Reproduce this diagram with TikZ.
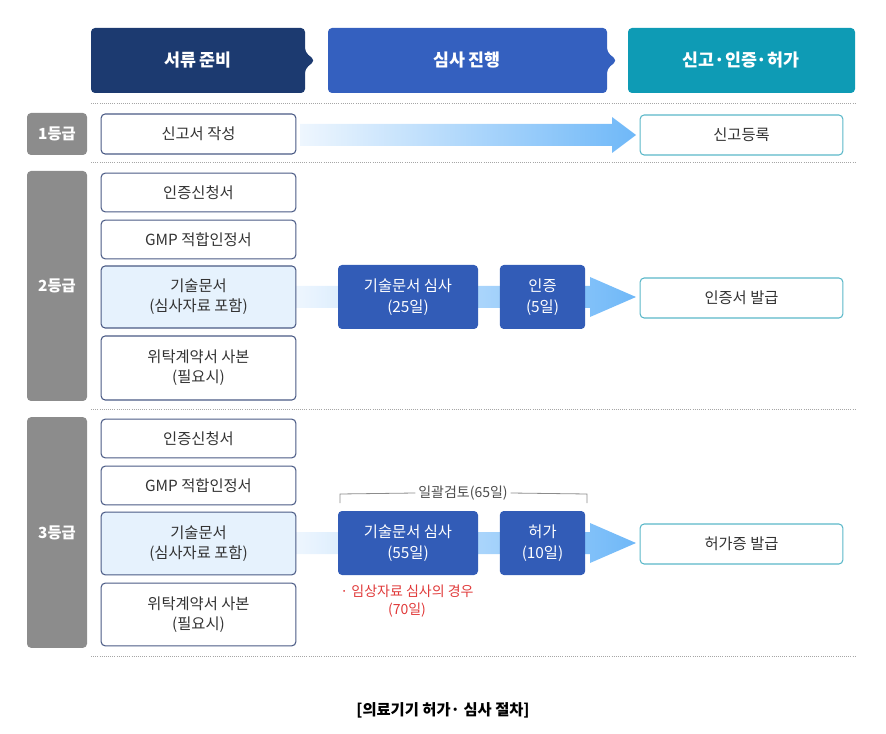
\documentclass[tikz,border=0pt]{standalone}
\usepackage{fontspec}
\setmainfont{Noto Sans CJK KR}
\usetikzlibrary{shadings}
\definecolor{navy}{HTML}{1C3A70}
\definecolor{mblue}{HTML}{3460BF}
\definecolor{teal}{HTML}{0E9BB5}
\definecolor{gbox}{HTML}{8C8C8C}
\definecolor{bord}{HTML}{4A5A85}
\definecolor{lfill}{HTML}{E6F2FD}
\definecolor{arr}{HTML}{6FB8F8}
\definecolor{arrl}{HTML}{EEF6FE}
\definecolor{tbord}{HTML}{5BB8C9}
\definecolor{rtext}{HTML}{E03A3A}
\begin{document}
\begin{tikzpicture}[x=0.75pt,y=-0.75pt,
  lbox/.style={draw=bord,line width=0.8pt,rounded corners=3pt,fill=white,font=\fontsize{11.5}{15}\selectfont,text=black!80,align=center},
  rbox/.style={draw=tbord,line width=0.8pt,rounded corners=3pt,fill=white,font=\fontsize{11.5}{15}\selectfont,text=black!80},
  gbx/.style={fill=gbox,rounded corners=3pt,text=white,font=\fontsize{11.5}{14}\bfseries\selectfont},
  sbox/.style={fill=mblue!90!navy,rounded corners=3pt,text=white,font=\fontsize{11.5}{16}\selectfont,align=center},
  hd/.style={text=white,font=\fontsize{13}{16}\bfseries\selectfont},
  dl/.style={densely dotted,black!35,line width=0.6pt}]
\useasboundingbox (0,0) rectangle (886,734);
% headers
\fill[navy,rounded corners=3pt] (91,28) -- (305,28) -- (305,52) -- (315,60.5) -- (305,69) -- (305,93) -- (91,93) -- cycle;
\fill[mblue,rounded corners=3pt] (328,28) -- (607,28) -- (607,52) -- (617,60.5) -- (607,69) -- (607,93) -- (328,93) -- cycle;
\fill[teal,rounded corners=3pt] (628,28) rectangle (855,93);
\node[hd] (h1) at (198,60.5) {서류 준비};
\node[hd] (h2) at (467,60.5) {심사 진행};
\node[hd] (h3) at (741,60.5) {신고·인증·허가};
% dotted lines
\foreach \yy in {103,162,409,656} \draw[dl] (91,\yy) -- (855,\yy);
% grade boxes
\node[gbx,minimum width=45pt,minimum height=31.5pt] (g1) at (57,134) {1등급};
\node[gbx,minimum width=45pt,minimum height=172.5pt] (g2) at (57,286) {2등급};
\node[gbx,minimum width=45pt,minimum height=173pt] (g3) at (57,532.5) {3등급};
% arrows
\shade[left color=arrl,right color=arr] (300,124) -- (612,124) -- (612,117) -- (636,135) -- (612,153) -- (612,146) -- (300,146) -- cycle;
\shade[left color=arrl,right color=arr] (296,286) -- (590,286) -- (590,277) -- (636,297) -- (590,317) -- (590,308) -- (296,308) -- cycle;
\shade[left color=arrl,right color=arr] (296,532) -- (590,532) -- (590,523) -- (636,543) -- (590,563) -- (590,554) -- (296,554) -- cycle;
% 1 grade
\node[lbox,minimum width=146pt,minimum height=30pt] (a1) at (198.5,134) {신고서 작성};
\node[rbox,minimum width=152pt,minimum height=30pt] (r1) at (741.5,135) {신고등록};
% 2 grade
\node[lbox,minimum width=146pt,minimum height=29pt] (b1) at (198.5,192.5) {인증신청서};
\node[lbox,minimum width=146pt,minimum height=29pt] (b2) at (198.5,239.5) {GMP 적합인정서};
\node[lbox,fill=lfill,minimum width=146pt,minimum height=46.5pt] (b3) at (198.5,297) {기술문서\\(심사자료 포함)};
\node[lbox,minimum width=146pt,minimum height=48pt] (b4) at (198.5,368) {위탁계약서 사본\\(필요시)};
\node[sbox,minimum width=105pt,minimum height=48pt] (s21) at (408,297) {기술문서 심사\\(25일)};
\node[sbox,minimum width=64pt,minimum height=48pt] (s22) at (542.5,297) {인증\\(5일)};
\node[rbox,minimum width=152pt,minimum height=30pt] (r2) at (741.5,298) {인증서 발급};
% 3 grade
\node[lbox,minimum width=146pt,minimum height=29pt] (c1) at (198.5,438.5) {인증신청서};
\node[lbox,minimum width=146pt,minimum height=29pt] (c2) at (198.5,485.5) {GMP 적합인정서};
\node[lbox,fill=lfill,minimum width=146pt,minimum height=47pt] (c3) at (198.5,543.5) {기술문서\\(심사자료 포함)};
\node[lbox,minimum width=146pt,minimum height=47pt] (c4) at (198.5,614.5) {위탁계약서 사본\\(필요시)};
\node[sbox,minimum width=105pt,minimum height=48pt] (s31) at (408,543) {기술문서 심사\\(55일)};
\node[sbox,minimum width=64pt,minimum height=48pt] (s32) at (542.5,543) {허가\\(10일)};
\node[rbox,minimum width=152pt,minimum height=30pt] (r3) at (741.5,544) {허가증 발급};
% bracket
\node[font=\fontsize{10.5}{13}\selectfont,text=black!70,fill=white,inner sep=2pt] (bl) at (463,493) {일괄검토(65일)};
\draw[black!45,line width=0.6pt] (340,503) -- (340,494) -- (bl.west);
\draw[black!45,line width=0.6pt] (bl.east) -- (587,494) -- (587,503);
\node[font=\fontsize{10.5}{14}\selectfont,text=rtext,align=center] (red) at (407,601) {· 임상자료 심사의 경우\\(70일)};
% caption
\node[font=\fontsize{11.5}{14}\bfseries\selectfont] (cap) at (443,710) {[의료기기 허가· 심사 절차]};
\end{tikzpicture}
\end{document}
